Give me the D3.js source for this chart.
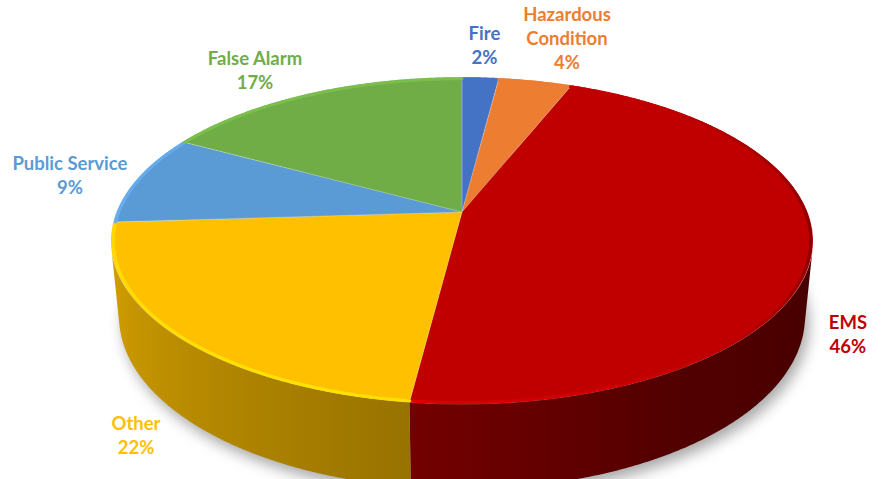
<!DOCTYPE html>
<html>
<head>
<meta charset="utf-8">
<script src="https://cdn.jsdelivr.net/npm/d3@7"></script>
<style>
  html, body { margin: 0; padding: 0; background: #fff; }
  svg { display: block; }
  .label { font-family: Lato, "Open Sans", sans-serif; font-weight: 700; font-size: 18.5px; }
</style>
</head>
<body>
<script>
// Data
const categories = ["Fire", "Hazardous Condition", "EMS", "Other", "Public Service", "False Alarm"];
const values = [2, 4, 46, 22, 9, 17];
const colors = ["#4472C4", "#ED7D31", "#C00000", "#FFC000", "#5B9BD5", "#70AD47"];
// names that Excel wrapped onto two lines
const wrapped = ["Hazardous Condition"];

const width = 882, height = 479;

// 3D view of the pie
const cx = 462, cy = 212;      // projected centre of the top face
const focal = 1727, dist = 5.0; // perspective camera
const tilt = 27.2 * Math.PI / 180;
const thick = 0.248;           // pie height, in radius units
const cosT = Math.cos(tilt), sinT = Math.sin(tilt);

// angle is clockwise from the back (12 o'clock), y is up
function proj(theta, r, y) {
  const x = r * Math.sin(theta), z = r * Math.cos(theta);
  const yv = y * cosT + z * sinT;
  const zv = z * cosT - y * sinT;
  const k = focal / (dist + zv);
  return [cx + x * k, cy - yv * k, zv];
}

// the outer wall faces the camera where cos(theta) < -1 / (dist * cos(tilt))
const edge = Math.acos(-1 / (dist * cosT));
const wallFrom = edge, wallTo = 2 * Math.PI - edge;

const svg = d3.select("body").append("svg")
  .attr("width", width)
  .attr("height", height);

const defs = svg.append("defs");
defs.append("filter")
  .attr("id", "shadow")
  .attr("x", "-20%").attr("y", "-20%")
  .attr("width", "140%").attr("height", "140%")
  .append("feGaussianBlur")
  .attr("stdDeviation", 7);

const pie = d3.pie().sort(null).value(d => d);
const arcs = pie(values);
const total = d3.sum(values);
const pct = d3.format(".0%");
const deg = Math.PI / 180;
const step = 0.5 * deg;

// shading of the side wall and of the rim, by angle
const wallShade = d3.scaleLinear()
  .domain([90, 150, 182, 270])
  .range([0.34, 0.43, 0.58, 0.88])
  .clamp(true);
const rimShade = d3.scaleLinear()
  .domain([40, 100, 150, 200, 300])
  .range([1, 0.72, 1.05, 1.18, 1.1])
  .clamp(true);

function shade(color, k) {
  const c = d3.rgb(color);
  return d3.rgb(Math.min(255, c.r * k), Math.min(255, c.g * k), Math.min(255, c.b * k)).formatHex();
}

function arcPoints(a0, a1, y) {
  const pts = [];
  const n = Math.max(2, Math.ceil((a1 - a0) / step));
  for (let i = 0; i <= n; i++) {
    const p = proj(a0 + (a1 - a0) * i / n, 1, y);
    pts.push([p[0], p[1]]);
  }
  return pts;
}

const line = d3.line();

// soft shadow under the pie
const base = arcPoints(0, 2 * Math.PI, -thick);
svg.append("path")
  .attr("d", line(base) + "Z")
  .attr("transform", "translate(4,7)")
  .attr("fill", "rgba(0,0,0,0.34)")
  .attr("filter", "url(#shadow)");

// side wall: one path per slice (front-facing part only), horizontal gradient
const walls = svg.append("g");
arcs.forEach((a, i) => {
  const lo = Math.max(a.startAngle, wallFrom), hi = Math.min(a.endAngle, wallTo);
  if (hi <= lo) return;
  const top = arcPoints(lo, hi, 0);
  const bottom = arcPoints(lo, hi, -thick).reverse();

  const n = Math.ceil((hi - lo) / (2 * deg));
  const samples = d3.range(n + 1).map(j => {
    const t = lo + (hi - lo) * j / n;
    return { x: proj(t, 1, 0)[0], color: shade(colors[i], wallShade(t / deg)) };
  }).sort((p, q) => p.x - q.x);
  const x0 = samples[0].x, x1 = samples[samples.length - 1].x;

  const grad = defs.append("linearGradient")
    .attr("id", "wall" + i)
    .attr("gradientUnits", "userSpaceOnUse")
    .attr("x1", x0).attr("x2", x1)
    .attr("y1", 0).attr("y2", 0);
  grad.selectAll("stop")
    .data(samples)
    .join("stop")
    .attr("offset", d => (x1 > x0 ? (d.x - x0) / (x1 - x0) : 0))
    .attr("stop-color", d => d.color);

  walls.append("path")
    .attr("d", line(top.concat(bottom)) + "Z")
    .attr("fill", `url(#wall${i})`);
});

// top face
const c0 = proj(0, 0, 0);
svg.append("g").selectAll("path")
  .data(arcs)
  .join("path")
  .attr("d", a => line([[c0[0], c0[1]], ...arcPoints(a.startAngle, a.endAngle, 0)]) + "Z")
  .attr("fill", (a, i) => colors[i])
  .attr("stroke", "rgba(255,255,255,0.35)")
  .attr("stroke-width", 0.6)
  .attr("stroke-linejoin", "round");

// bevel along the rim
const rim = [];
arcs.forEach((a, i) => {
  const n = Math.max(1, Math.ceil((a.endAngle - a.startAngle) / step));
  for (let j = 0; j < n; j++) {
    const t0 = a.startAngle + (a.endAngle - a.startAngle) * j / n;
    const t1 = a.startAngle + (a.endAngle - a.startAngle) * (j + 1) / n;
    const tm = (t0 + t1) / 2;
    const p0 = proj(t0, 0.994, 0), p1 = proj(t1, 0.994, 0);
    rim.push({ pts: [[p0[0], p0[1]], [p1[0], p1[1]]], color: shade(colors[i], rimShade(tm / deg)) });
  }
});
svg.append("g").selectAll("path")
  .data(rim)
  .join("path")
  .attr("d", d => line(d.pts))
  .attr("stroke", d => d.color)
  .attr("stroke-width", 3)
  .attr("stroke-linecap", "round")
  .attr("fill", "none");

// data labels, placed outside the slice at its mid angle
const gap = 10, lineHeight = 24;
const lean = d3.scaleLinear().domain([-0.8, 0.8]).range([-1, 1]).clamp(true);
const labels = svg.append("g").selectAll("text")
  .data(arcs)
  .join("text")
  .attr("class", "label")
  .attr("text-anchor", "middle")
  .attr("fill", (a, i) => colors[i]);

labels.each(function(a, i) {
  const name = categories[i];
  const lines = wrapped.includes(name) ? name.split(" ") : [name];
  lines.push(pct(values[i] / total));
  const text = d3.select(this);
  text.selectAll("tspan")
    .data(lines)
    .join("tspan")
    .attr("x", 0)
    .attr("y", (d, k) => k * lineHeight)
    .text(d => d);

  // anchor on the visible outer edge: top rim at the back, low on the wall at the front
  const mid = (a.startAngle + a.endAngle) / 2;
  const back = Math.cos(mid) > 0;
  const p = proj(mid, back ? 1.0 : 1.04, back ? 0 : -thick * 0.88);
  let ux = p[0] - cx, uy = p[1] - cy;
  const len = Math.hypot(ux, uy);
  ux /= len; uy /= len;
  const box = this.getBBox();
  const tx = p[0] + ux * gap + lean(ux) * box.width / 2;
  const ty = p[1] + uy * gap + lean(uy) * box.height / 2;
  text.attr("transform", `translate(${tx - (box.x + box.width / 2)},${ty - (box.y + box.height / 2)})`);
});
</script>
</body>
</html>
